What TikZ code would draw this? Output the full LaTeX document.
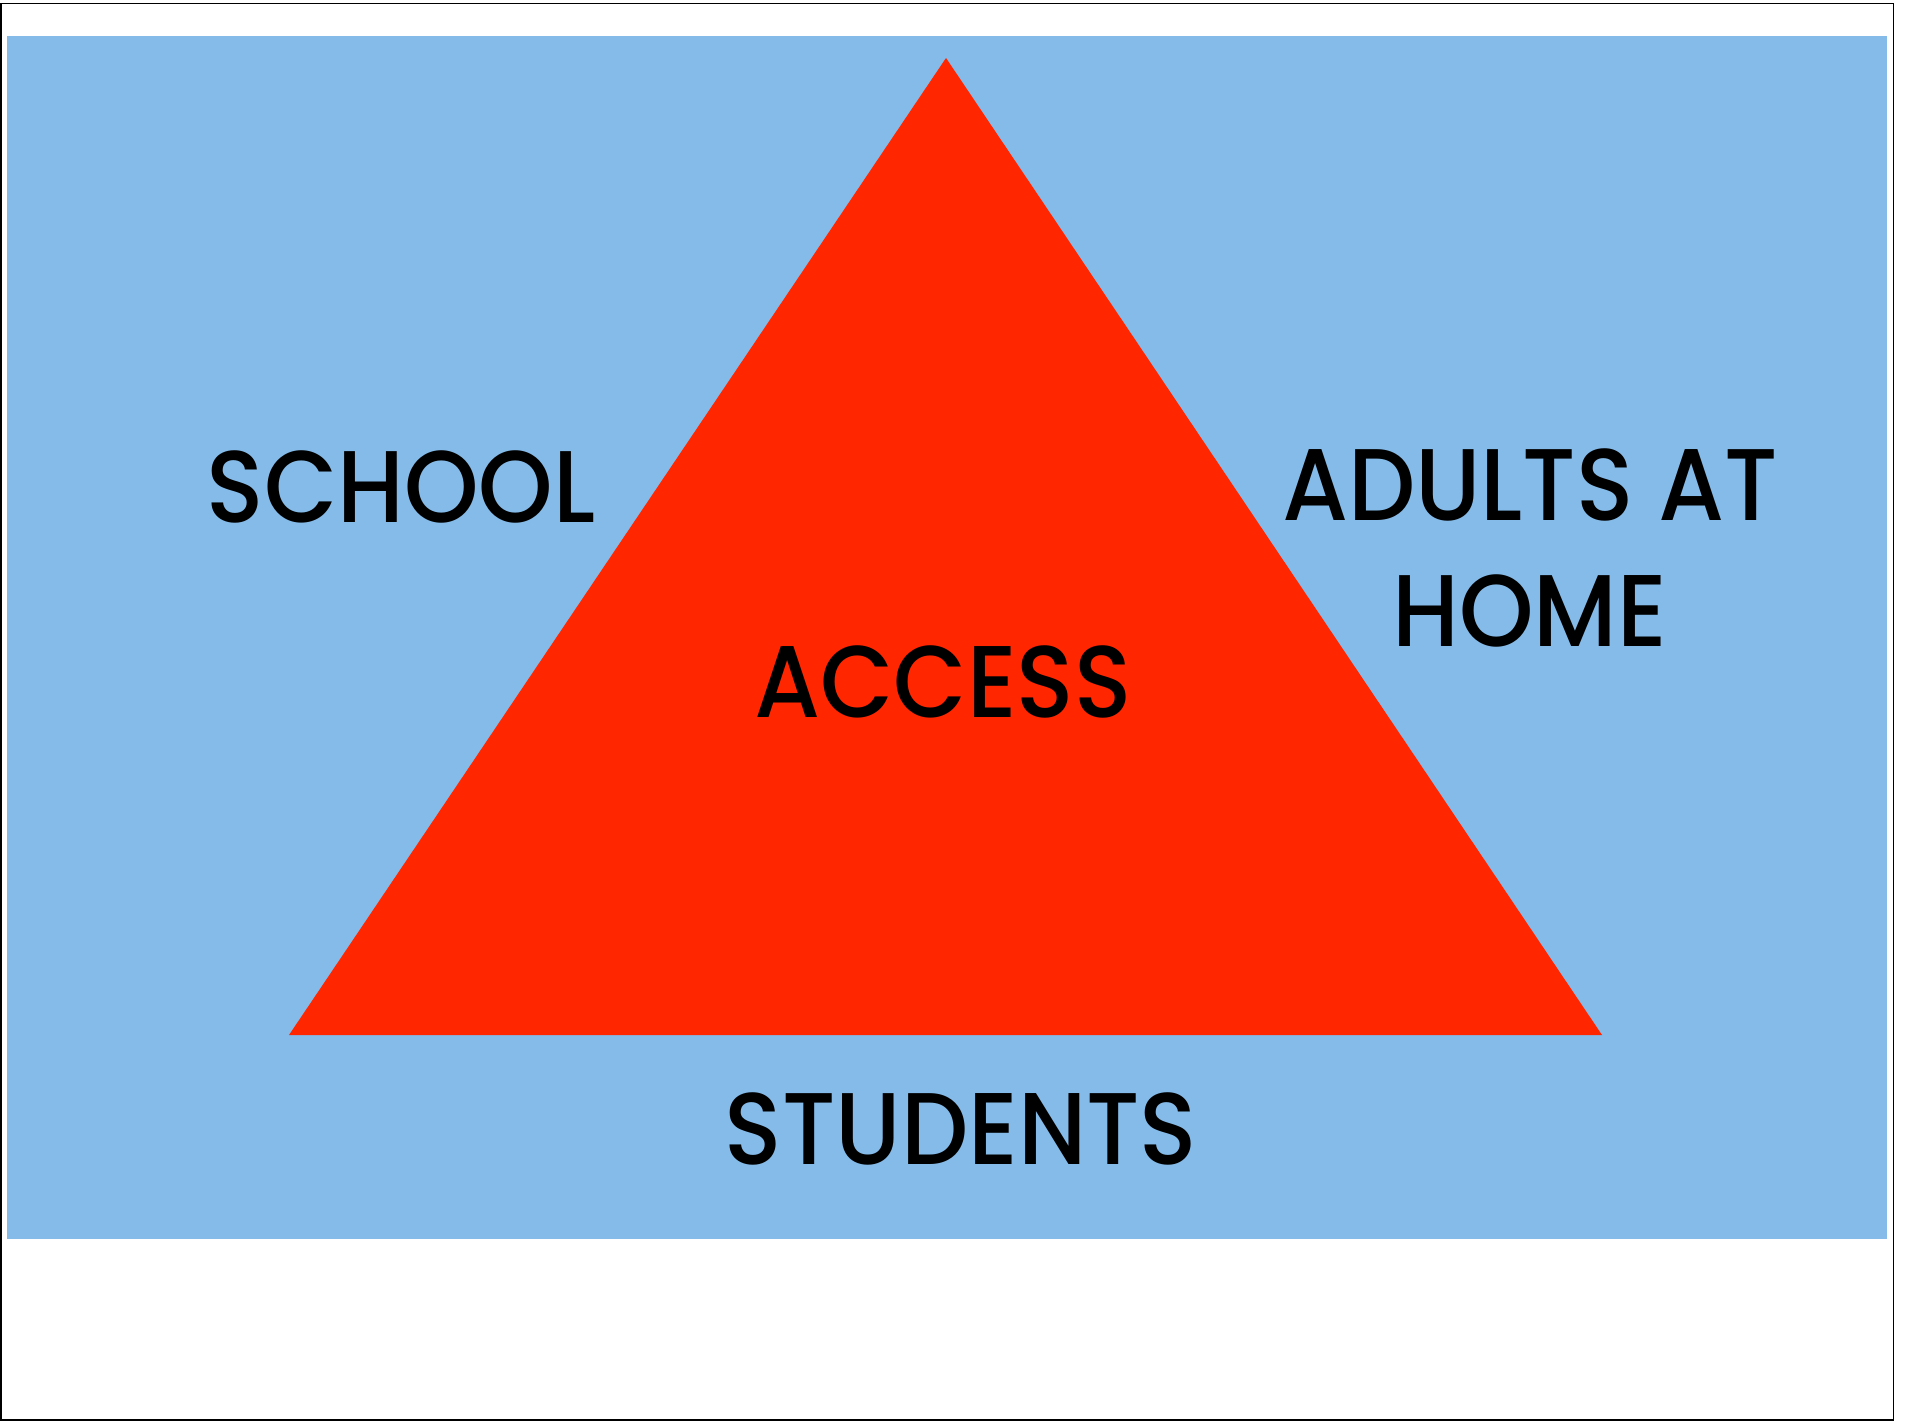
\documentclass[tikz,border=0pt]{standalone}
\usepackage{fontspec}
\setmainfont{Poppins}[UprightFont=* Medium, FakeStretch=0.93]
\definecolor{sky}{RGB}{133,187,233}
\definecolor{flame}{RGB}{255,38,0}

\begin{document}
\begin{tikzpicture}[
        x=0.01cm, y=-0.01cm,
        word/.style={font=\fontsize{29}{35.6}\selectfont, inner sep=0pt, anchor=base},
    ]
        \useasboundingbox (0,0) rectangle (1908,1421);
        \draw[line width=0.4pt] (1,3.5) rectangle (1893.5,1420);
        \fill[sky] (7,36) rectangle (1887,1239);

        \coordinate (top) at (946,58);
        \coordinate (left) at (289,1035);
        \coordinate (right) at (1602,1035);
        \fill[flame] (top) -- (right) -- (left) -- cycle;

        \node[word] (school) at (401,522) {SCHOOL};
        \node[word, align=center] (adults) at (1530,646) {ADULTS AT\\HOME};
        \node[word] (access) at (943,717) {ACCESS};
        \node[word] (students) at (961,1164) {STUDENTS};
    \end{tikzpicture}
\end{document}
